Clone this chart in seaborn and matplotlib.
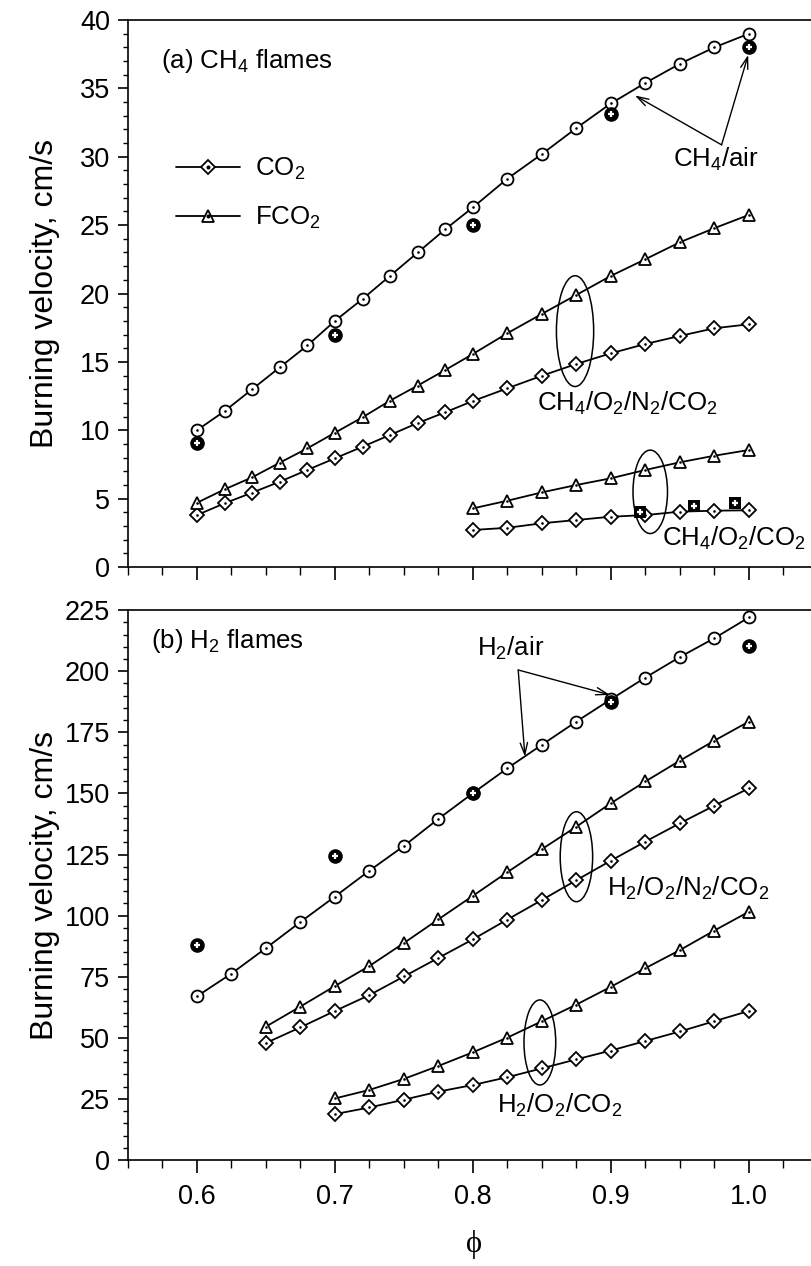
import matplotlib
matplotlib.use("Agg")
import matplotlib.pyplot as plt
import seaborn as sns
from matplotlib.patches import Ellipse
from matplotlib.lines import Line2D
from matplotlib.legend_handler import HandlerTuple
from matplotlib.ticker import MultipleLocator, FixedLocator, FormatStrFormatter

# ---------------- (a) CH4 flames ----------------
phi_ch4 = [0.60, 0.62, 0.64, 0.66, 0.68, 0.70, 0.72, 0.74, 0.76, 0.78, 0.80,
           0.825, 0.85, 0.875, 0.90, 0.925, 0.95, 0.975, 1.00]
ch4_air_model = [10.0, 11.4, 13.0, 14.6, 16.2, 18.0, 19.6, 21.3, 23.0, 24.7, 26.3,
                 28.4, 30.2, 32.1, 33.9, 35.4, 36.8, 38.0, 39.0]
ch4_n2_co2 = [3.8, 4.66, 5.44, 6.24, 7.1, 7.95, 8.8, 9.66, 10.53, 11.32, 12.14,
              13.07, 13.99, 14.85, 15.63, 16.31, 16.9, 17.46, 17.75]
ch4_n2_fco2 = [4.7, 5.68, 6.56, 7.63, 8.68, 9.82, 10.95, 12.17, 13.27, 14.41, 15.58,
               17.1, 18.51, 19.9, 21.29, 22.51, 23.75, 24.78, 25.75]

phi_ch4_o2 = [0.800, 0.825, 0.850, 0.875, 0.900, 0.925, 0.950, 0.975, 1.000]
ch4_o2_co2 = [2.71, 2.87, 3.2, 3.44, 3.68, 3.8, 4.05, 4.12, 4.15]
ch4_o2_fco2 = [4.29, 4.85, 5.46, 6.0, 6.49, 7.1, 7.66, 8.14, 8.56]

phi_ch4_air_exp = [0.6, 0.7, 0.8, 0.9, 1.0]
ch4_air_exp = [9.05, 17.0, 25.0, 33.1, 38.05]
phi_ch4_o2_exp = [0.921, 0.96, 0.99]
ch4_o2_co2_exp = [4.05, 4.46, 4.66]

# ---------------- (b) H2 flames ----------------
phi_h2 = [0.600, 0.625, 0.650, 0.675, 0.700, 0.725, 0.750, 0.775, 0.800,
          0.825, 0.850, 0.875, 0.900, 0.925, 0.950, 0.975, 1.000]
h2_air_model = [67.0, 76.3, 86.7, 97.4, 107.8, 118.4, 128.5, 139.6, 150.1,
                160.3, 169.9, 179.4, 188.5, 197.4, 205.8, 213.5, 222.0]
phi_h2_air_exp = [0.6, 0.7, 0.8, 0.9, 1.0]
h2_air_exp = [88.0, 124.4, 150.1, 187.4, 210.5]

phi_h2_n2 = [0.650, 0.675, 0.700, 0.725, 0.750, 0.775, 0.800, 0.825,
             0.850, 0.875, 0.900, 0.925, 0.950, 0.975, 1.000]
h2_n2_co2 = [47.9, 54.3, 61.0, 67.5, 75.1, 82.7, 90.3, 98.4,
             106.4, 114.5, 122.5, 130.3, 137.8, 145.0, 152.1]
h2_n2_fco2 = [54.6, 62.8, 71.2, 79.4, 88.8, 98.5, 108.1, 117.8,
              127.2, 136.4, 146.0, 154.9, 163.4, 171.6, 179.4]

phi_h2_o2 = [0.700, 0.725, 0.750, 0.775, 0.800, 0.825, 0.850,
             0.875, 0.900, 0.925, 0.950, 0.975, 1.000]
h2_o2_co2 = [18.8, 21.5, 24.7, 28.0, 30.7, 33.9, 37.5,
             41.2, 44.8, 48.7, 52.6, 56.8, 61.0]
h2_o2_fco2 = [25.2, 28.7, 33.2, 38.5, 44.1, 50.1, 56.8,
              63.6, 70.9, 78.5, 85.9, 93.9, 101.6]

legend_labels = ["CO$_2$", "FCO$_2$"]
ylabel_text = "Burning velocity, cm/s"

# ---------------- style ----------------
sns.set_theme(style="ticks")
plt.rcParams["font.family"] = ["Liberation Sans", "DejaVu Sans"]
plt.rcParams["mathtext.default"] = "regular"
plt.rcParams["axes.linewidth"] = 1.2
for key in ("text.color", "axes.labelcolor", "xtick.color", "ytick.color",
            "axes.edgecolor"):
    plt.rcParams[key] = "black"

FS_TICK = 19.5
FS = 18.6
LW = 1.3
MS = {"o": 8.6, "D": 7.0, "^": 8.6}

fig = plt.figure(figsize=(8.11, 12.66), dpi=100)
ax_a = fig.add_axes([0.1578, 0.5521, 0.8422, 0.4321])
ax_b = fig.add_axes([0.1578, 0.0837, 0.8422, 0.4344])


def model_curve(ax, x, y, marker):
    sns.lineplot(x=x, y=y, ax=ax, color="black", lw=LW, marker=marker,
                 markersize=MS[marker], markerfacecolor="white",
                 markeredgecolor="black", markeredgewidth=1.3, zorder=3)
    sns.scatterplot(x=x, y=y, ax=ax, color="black", s=3.5, marker="o",
                    linewidth=0, zorder=4)


def exp_points(ax, x, y, marker, size):
    sns.scatterplot(x=x, y=y, ax=ax, color="black", s=size ** 2, marker=marker,
                    linewidth=0, zorder=5)
    sns.scatterplot(x=x, y=y, ax=ax, color="white", s=22, marker="+",
                    linewidth=1.6, zorder=6)


def style_axis(ax, ymax, ymajor, yminor):
    ax.set_xlim(0.55, 1.045)
    ax.set_ylim(0, ymax)
    ax.xaxis.set_major_locator(FixedLocator([0.6, 0.7, 0.8, 0.9, 1.0]))
    ax.xaxis.set_minor_locator(MultipleLocator(0.025))
    ax.yaxis.set_major_locator(MultipleLocator(ymajor))
    ax.yaxis.set_minor_locator(MultipleLocator(yminor))
    ax.spines["right"].set_visible(False)
    ax.spines["top"].set_visible(True)
    ax.tick_params(axis="x", which="major", direction="out", length=9.5,
                   width=1.2, labelsize=FS_TICK, pad=8, top=False)
    ax.tick_params(axis="x", which="minor", direction="out", length=5.5,
                   width=1.0, top=False)
    ax.tick_params(axis="y", which="major", direction="out", length=7,
                   width=1.2, labelsize=FS_TICK, pad=6, right=False)
    ax.tick_params(axis="y", which="minor", direction="out", length=3.8,
                   width=1.0, right=False)
    ax.set_ylabel(ylabel_text, fontsize=23)
    ax.yaxis.set_label_coords(-0.10, 0.5)
    ax.grid(False)


def arrow(ax, tail, head):
    ax.annotate("", xy=head, xytext=tail,
                arrowprops=dict(arrowstyle="->,head_length=0.7,head_width=0.22",
                                lw=1.0, color="black", shrinkA=0, shrinkB=0))


def ring(ax, center, w, h):
    ax.add_patch(Ellipse(center, w, h, fill=False, lw=1.1, ec="black", zorder=7))


# ---------------- panel (a) ----------------
model_curve(ax_a, phi_ch4, ch4_air_model, "o")
model_curve(ax_a, phi_ch4, ch4_n2_co2, "D")
model_curve(ax_a, phi_ch4, ch4_n2_fco2, "^")
model_curve(ax_a, phi_ch4_o2, ch4_o2_co2, "D")
model_curve(ax_a, phi_ch4_o2, ch4_o2_fco2, "^")
exp_points(ax_a, phi_ch4_air_exp, ch4_air_exp, "o", 10.5)
exp_points(ax_a, phi_ch4_o2_exp, ch4_o2_co2_exp, "s", 9.0)

style_axis(ax_a, 40, 5, 1)
ax_a.tick_params(axis="x", labelbottom=False)
ax_a.set_xlabel("")

ax_a.text(0.574, 37.0, "(a) CH$_4$ flames", fontsize=FS, va="center", ha="left")
ax_a.text(0.9451, 29.8, "CH$_4$/air", fontsize=FS, va="center", ha="left")
arrow(ax_a, (0.9802, 30.87), (0.9174, 34.48))
arrow(ax_a, (0.9802, 30.87), (0.9995, 37.45))
ax_a.text(0.8462, 12.0, "CH$_4$/O$_2$/N$_2$/CO$_2$", fontsize=FS, va="center", ha="left")
ax_a.text(0.9367, 2.1, "CH$_4$/O$_2$/CO$_2$", fontsize=FS, va="center", ha="left")
ring(ax_a, (0.874, 17.25), 0.027, 8.1)
ring(ax_a, (0.9285, 5.5), 0.025, 6.1)

dot = Line2D([], [], ls="none", marker="o", ms=1.9, color="black")
h_co2 = Line2D([], [], color="black", lw=LW, marker="D", ms=MS["D"],
               mfc="white", mec="black", mew=1.3)
h_fco2 = Line2D([], [], color="black", lw=LW, marker="^", ms=MS["^"],
                mfc="white", mec="black", mew=1.3)
ax_a.legend([(h_co2, dot), (h_fco2, dot)], legend_labels,
            handler_map={tuple: HandlerTuple(ndivide=1)},
            loc="upper left", bbox_to_anchor=(0.071, 0.752), frameon=False,
            fontsize=FS, handlelength=2.45, handletextpad=0.6,
            labelspacing=0.9, borderpad=0, borderaxespad=0, numpoints=1)

# ---------------- panel (b) ----------------
model_curve(ax_b, phi_h2, h2_air_model, "o")
model_curve(ax_b, phi_h2_n2, h2_n2_co2, "D")
model_curve(ax_b, phi_h2_n2, h2_n2_fco2, "^")
model_curve(ax_b, phi_h2_o2, h2_o2_co2, "D")
model_curve(ax_b, phi_h2_o2, h2_o2_fco2, "^")
exp_points(ax_b, phi_h2_air_exp, h2_air_exp, "o", 10.5)

style_axis(ax_b, 225, 25, 5)
ax_b.xaxis.set_major_formatter(FormatStrFormatter("%.1f"))
ax_b.set_xlabel("\u03d5", fontsize=22, family=["Liberation Serif", "DejaVu Serif"])
ax_b.xaxis.set_label_coords(0.507, -0.127)

ax_b.text(0.567, 212.3, "(b) H$_2$ flames", fontsize=FS, va="center", ha="left")
ax_b.text(0.8027, 209.4, "H$_2$/air", fontsize=FS, va="center", ha="left")
arrow(ax_b, (0.8328, 200.5), (0.8993, 190.3))
arrow(ax_b, (0.8328, 200.5), (0.8377, 165.0))
ax_b.text(0.8969, 111.2, "H$_2$/O$_2$/N$_2$/CO$_2$", fontsize=FS, va="center", ha="left")
ax_b.text(0.8172, 22.5, "H$_2$/O$_2$/CO$_2$", fontsize=FS, va="center", ha="left")
ring(ax_b, (0.875, 124.1), 0.0235, 36.8)
ring(ax_b, (0.8485, 48.1), 0.023, 34.8)

fig.savefig("out.png", dpi=100)
